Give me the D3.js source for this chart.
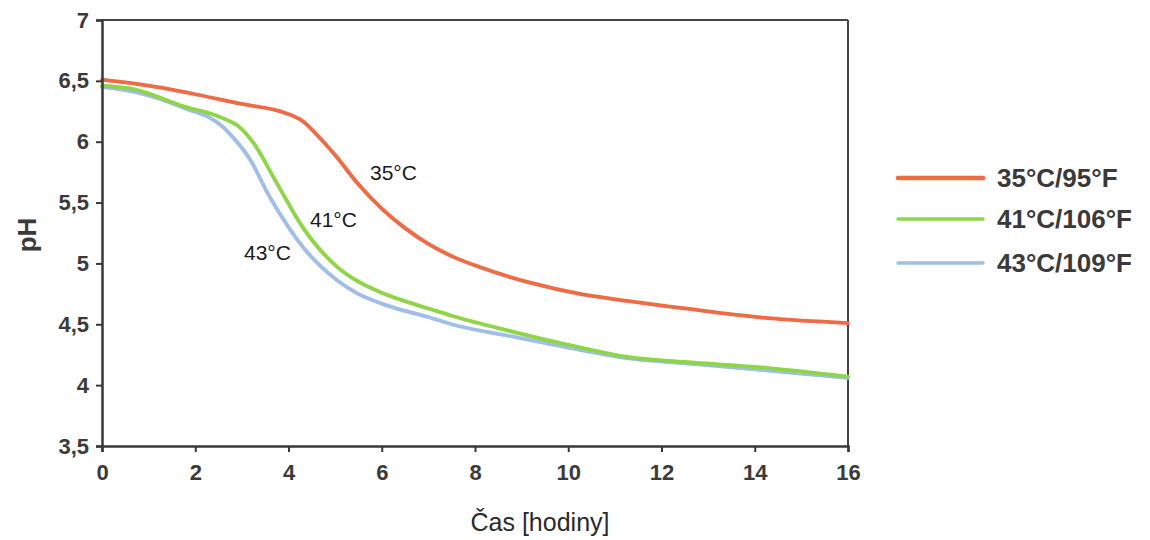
<!DOCTYPE html>
<html>
<head>
<meta charset="utf-8">
<script src="https://cdn.jsdelivr.net/npm/d3@7/dist/d3.min.js"></script>
<style>
  html, body { margin: 0; padding: 0; background: #fff; }
  svg { display: block; font-family: "Liberation Sans", Arial, sans-serif; }
</style>
</head>
<body>
<svg id="chart" width="1150" height="540"></svg>
<script>
// ---- data ----
const xTicks = [0, 2, 4, 6, 8, 10, 12, 14, 16];
const yTicks = [3.5, 4, 4.5, 5, 5.5, 6, 6.5, 7];
const yTickLabels = ["3,5", "4", "4,5", "5", "5,5", "6", "6,5", "7"];
const seriesNames = ["35°C/95°F", "41°C/106°F", "43°C/109°F"];
const curveLabels = ["35°C", "41°C", "43°C"];

const time35 = [0, 1, 2, 3, 3.9, 4.3, 4.7, 5.0, 5.5, 6.0, 6.5, 7.0, 7.5, 8.1, 9.2, 10.25, 11.3, 12.5, 14.3, 16];
const ph35   = [6.51, 6.46, 6.39, 6.31, 6.24, 6.17, 6.02, 5.89, 5.65, 5.45, 5.29, 5.16, 5.06, 4.97, 4.84, 4.75, 4.69, 4.63, 4.55, 4.51];

const time41 = [0, 0.7, 1.75, 2.55, 2.95, 3.25, 3.75, 4.3, 5.05, 5.5, 6.0, 6.5, 7.0, 7.5, 8.8, 10.25, 11.3, 12.5, 14.3, 16];
const ph41   = [6.46, 6.43, 6.29, 6.20, 6.12, 5.99, 5.66, 5.30, 4.97, 4.85, 4.76, 4.69, 4.63, 4.57, 4.44, 4.31, 4.23, 4.19, 4.14, 4.07];

const time43 = [0, 0.7, 1.75, 2.6, 2.8, 3.2, 3.55, 3.75, 4.3, 5.05, 5.5, 6.0, 6.5, 7.0, 7.5, 8.8, 10.25, 11.3, 12.5, 14.3, 16];
const ph43   = [6.45, 6.41, 6.28, 6.12, 6.04, 5.84, 5.58, 5.45, 5.14, 4.86, 4.75, 4.67, 4.61, 4.56, 4.50, 4.40, 4.29, 4.22, 4.18, 4.12, 4.06];

const colors = ["#f06a43", "#8fd647", "#9fbfe8"];

// ---- layout ----
const svg = d3.select("#chart");
const mLeft = 102, mRight = 848, mTop = 20, mBottom = 446;
const x = d3.scaleLinear().domain([0, 16]).range([mLeft, mRight]);
const y = d3.scaleLinear().domain([3.5, 7]).range([mBottom, mTop]);
const ink = "#383838";

// frame top & right
svg.append("line").attr("x1", mLeft).attr("x2", mRight).attr("y1", mTop).attr("y2", mTop)
  .attr("stroke", "#444").attr("stroke-width", 2);
svg.append("line").attr("x1", mRight).attr("x2", mRight).attr("y1", mTop).attr("y2", mBottom)
  .attr("stroke", "#444").attr("stroke-width", 2);

// series
const series = [
  time35.map((t, i) => [t, ph35[i]]),
  time41.map((t, i) => [t, ph41[i]]),
  time43.map((t, i) => [t, ph43[i]])
];
const line = d3.line().x(d => x(d[0])).y(d => y(d[1])).curve(d3.curveMonotoneX);
[2, 1, 0].forEach(i => {
  svg.append("path").datum(series[i])
    .attr("fill", "none")
    .attr("stroke", "#8a8a8a").attr("stroke-opacity", 0.35)
    .attr("stroke-width", 1.2)
    .attr("transform", "translate(-1,1)")
    .attr("d", line);
  svg.append("path").datum(series[i])
    .attr("fill", "none")
    .attr("stroke", colors[i])
    .attr("stroke-width", 3.8)
    .attr("stroke-linecap", "round")
    .attr("d", line);
});

// axes
const xAxis = d3.axisBottom(x).tickValues(xTicks).tickSize(6).tickPadding(9).tickFormat(d3.format("d"));
const gx = svg.append("g").attr("transform", `translate(0,${mBottom})`).call(xAxis);
const yAxis = d3.axisLeft(y).tickValues(yTicks).tickSize(6).tickPadding(7)
  .tickFormat((d, i) => yTickLabels[i]);
const gy = svg.append("g").attr("transform", `translate(${mLeft},0)`).call(yAxis);
[gx, gy].forEach(g => {
  g.select(".domain").attr("stroke", ink).attr("stroke-width", 2.5);
  g.selectAll(".tick line").attr("stroke", ink).attr("stroke-width", 2);
  g.selectAll(".tick text").attr("fill", "#3a3a3a").attr("font-size", 22)
    .attr("font-weight", "bold").attr("font-family", "'Liberation Sans', Arial, sans-serif");
});
gx.selectAll(".tick text").attr("dy", "0.85em");

// axis titles
svg.append("text").attr("transform", "translate(36,235) rotate(-90)")
  .attr("text-anchor", "middle").attr("font-size", 26).attr("font-weight", "bold")
  .attr("fill", "#3a3a3a").text("pH");
svg.append("text").attr("x", 540).attr("y", 531).attr("text-anchor", "middle")
  .attr("font-size", 25).attr("fill", "#2a2a2a").text("Čas [hodiny]");

// curve labels
const labelPos = [[370, 180], [310, 227], [244, 260]];
curveLabels.forEach((t, i) => {
  svg.append("text").attr("x", labelPos[i][0]).attr("y", labelPos[i][1])
    .attr("font-size", 21).attr("fill", "#1a1a1a").text(t);
});

// legend
const legY = [178, 219, 263];
seriesNames.forEach((n, i) => {
  svg.append("line").attr("x1", 898).attr("x2", 983).attr("y1", legY[i]).attr("y2", legY[i])
    .attr("stroke", colors[i]).attr("stroke-width", i === 0 ? 4.5 : 3.5).attr("stroke-linecap", "round");
  svg.append("text").attr("x", 997).attr("y", legY[i] + 9)
    .attr("font-size", 26).attr("font-weight", "bold").attr("fill", "#3a3a3a").text(n);
});
</script>
</body>
</html>
